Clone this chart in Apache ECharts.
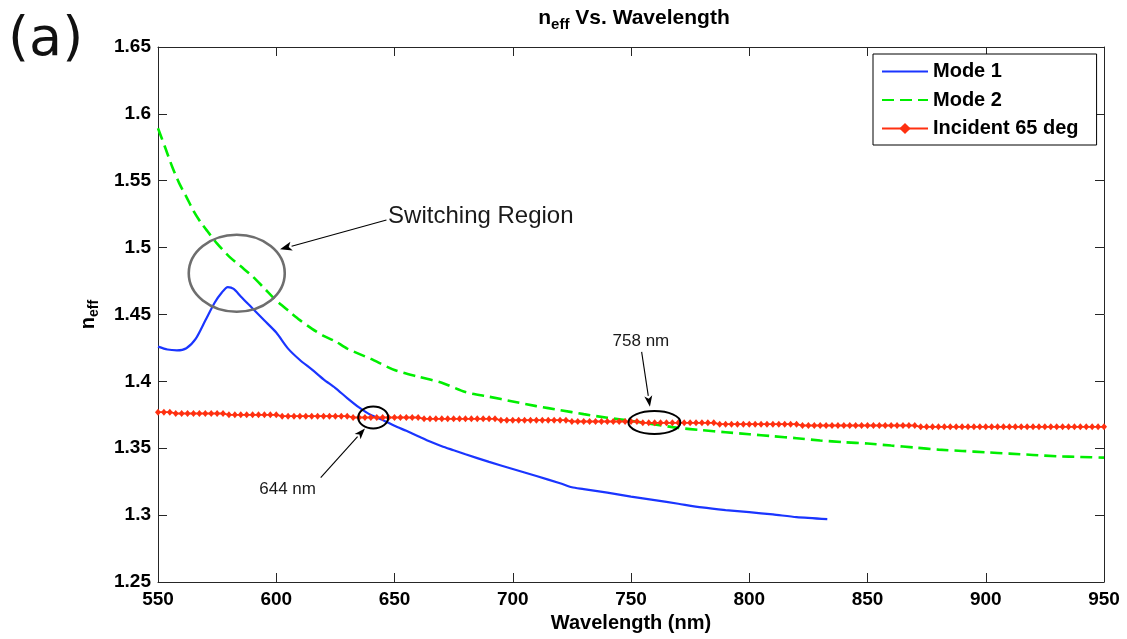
<!DOCTYPE html>
<html>
<head>
<meta charset="utf-8">
<script src="https://cdn.jsdelivr.net/npm/echarts@6/dist/echarts.min.js"></script>
<style>
  html, body { margin: 0; padding: 0; background: #fff; }
  #chart { width: 1127px; height: 639px; }
</style>
</head>
<body>
<div id="chart"></div>
<script>
// Mode 1 effective index vs. wavelength (nm)
const mode1Wavelength = [550, 554, 558, 562, 566, 570, 574, 577, 579.5, 582, 585, 590, 595, 600, 605, 610,
  615, 620, 625, 630, 635, 640, 645, 650, 655, 660, 665, 670, 675, 680, 690, 700, 710, 720, 725, 730,
  740, 750, 760, 770, 780, 790, 800, 810, 820, 833];
const mode1Neff = [1.426, 1.4238, 1.4232, 1.4248, 1.432, 1.4455, 1.459, 1.4665, 1.4705, 1.4692, 1.4635, 1.4545,
  1.4455, 1.4365, 1.4245, 1.416, 1.409, 1.4015, 1.395, 1.3875, 1.3805, 1.3748, 1.3712, 1.3668, 1.363, 1.359,
  1.355, 1.3515, 1.3485, 1.3455, 1.3398, 1.3345, 1.3292, 1.3238, 1.3208, 1.3195, 1.3168, 1.3138, 1.3112,
  1.3085, 1.3058, 1.3038, 1.3022, 1.3005, 1.2985, 1.297];

// Mode 2 effective index vs. wavelength (nm)
const mode2Wavelength = [550, 553, 556, 559, 562, 565, 568, 571, 575, 580, 585, 590, 595, 600, 605, 610, 615,
  620, 625, 630, 640, 650, 660, 670, 680, 690, 700, 710, 720, 730, 740, 750, 760, 770, 780, 790, 800, 810,
  820, 830, 840, 850, 860, 870, 880, 890, 900, 910, 920, 930, 940, 950];
const mode2Neff = [1.5892, 1.575, 1.5605, 1.548, 1.538, 1.5275, 1.519, 1.512, 1.503, 1.4935, 1.486, 1.4785,
  1.4695, 1.4605, 1.453, 1.4458, 1.4395, 1.434, 1.43, 1.4245, 1.4168, 1.4085, 1.4035, 1.399, 1.392, 1.3885,
  1.385, 1.3815, 1.3785, 1.3755, 1.3728, 1.3705, 1.3678, 1.3652, 1.3635, 1.362, 1.3605, 1.359, 1.3575,
  1.3558, 1.3545, 1.3535, 1.352, 1.3505, 1.349, 1.348, 1.347, 1.346, 1.345, 1.344, 1.3435, 1.343];

// Incident light at 65 deg, sampled every 2.5 nm
const incidentWavelength = [
  550, 552.5, 555, 557.5, 560, 562.5, 565, 567.5, 570, 572.5, 575, 577.5, 580, 582.5, 585, 587.5, 590, 592.5, 595, 597.5,
  600, 602.5, 605, 607.5, 610, 612.5, 615, 617.5, 620, 622.5, 625, 627.5, 630, 632.5, 635, 637.5, 640, 642.5, 645, 647.5,
  650, 652.5, 655, 657.5, 660, 662.5, 665, 667.5, 670, 672.5, 675, 677.5, 680, 682.5, 685, 687.5, 690, 692.5, 695, 697.5,
  700, 702.5, 705, 707.5, 710, 712.5, 715, 717.5, 720, 722.5, 725, 727.5, 730, 732.5, 735, 737.5, 740, 742.5, 745, 747.5,
  750, 752.5, 755, 757.5, 760, 762.5, 765, 767.5, 770, 772.5, 775, 777.5, 780, 782.5, 785, 787.5, 790, 792.5, 795, 797.5,
  800, 802.5, 805, 807.5, 810, 812.5, 815, 817.5, 820, 822.5, 825, 827.5, 830, 832.5, 835, 837.5, 840, 842.5, 845, 847.5,
  850, 852.5, 855, 857.5, 860, 862.5, 865, 867.5, 870, 872.5, 875, 877.5, 880, 882.5, 885, 887.5, 890, 892.5, 895, 897.5,
  900, 902.5, 905, 907.5, 910, 912.5, 915, 917.5, 920, 922.5, 925, 927.5, 930, 932.5, 935, 937.5, 940, 942.5, 945, 947.5,
  950];
const incidentNeff = [
  1.377, 1.377, 1.377, 1.376, 1.376, 1.376, 1.376, 1.376, 1.376, 1.376, 1.376, 1.376, 1.375, 1.375, 1.375, 1.375, 1.375, 1.375, 1.375, 1.375,
  1.375, 1.374, 1.374, 1.374, 1.374, 1.374, 1.374, 1.374, 1.374, 1.374, 1.374, 1.374, 1.374, 1.373, 1.373, 1.373, 1.373, 1.373, 1.373, 1.373,
  1.373, 1.373, 1.373, 1.373, 1.373, 1.372, 1.372, 1.372, 1.372, 1.372, 1.372, 1.372, 1.372, 1.372, 1.372, 1.372, 1.372, 1.372, 1.371, 1.371,
  1.371, 1.371, 1.371, 1.371, 1.371, 1.371, 1.371, 1.371, 1.371, 1.371, 1.370, 1.370, 1.370, 1.370, 1.370, 1.370, 1.370, 1.370, 1.370, 1.370,
  1.370, 1.370, 1.369, 1.369, 1.369, 1.369, 1.369, 1.369, 1.369, 1.369, 1.369, 1.369, 1.369, 1.369, 1.369, 1.368, 1.368, 1.368, 1.368, 1.368,
  1.368, 1.368, 1.368, 1.368, 1.368, 1.368, 1.368, 1.368, 1.368, 1.367, 1.367, 1.367, 1.367, 1.367, 1.367, 1.367, 1.367, 1.367, 1.367, 1.367,
  1.367, 1.367, 1.367, 1.367, 1.367, 1.367, 1.367, 1.367, 1.367, 1.366, 1.366, 1.366, 1.366, 1.366, 1.366, 1.366, 1.366, 1.366, 1.366, 1.366,
  1.366, 1.366, 1.366, 1.366, 1.366, 1.366, 1.366, 1.366, 1.366, 1.366, 1.366, 1.366, 1.366, 1.366, 1.366, 1.366, 1.366, 1.366, 1.366, 1.366,
  1.366];

const seriesNames = ['Mode 1', 'Mode 2', 'Incident 65 deg'];
const xTicks = { min: 550, max: 950, step: 50 };
const yTicks = { min: 1.25, max: 1.65, step: 0.05 };

const pairs = (xs, ys) => xs.map((x, i) => [x, ys[i]]);

const AXIS_COLOR = '#262626';
const TICK_FONT = { fontFamily: 'Liberation Sans', fontWeight: 'bold', fontSize: 19, color: '#000' };

const chart = echarts.init(document.getElementById('chart'), null, { renderer: 'canvas' });

const baseAxis = {
  axisLine: { show: true, onZero: false, lineStyle: { color: AXIS_COLOR, width: 1 } },
  axisTick: { show: true, inside: true, length: 9, lineStyle: { color: AXIS_COLOR, width: 1 } },
  splitLine: { show: false }
};

chart.setOption({
  animation: false,
  backgroundColor: '#fff',
  grid: { left: 158, right: 23, top: 47, bottom: 57, containLabel: false },
  title: {
    text: '{n|n}{sub|eff}{n| Vs. Wavelength}',
    left: 629, top: 2, textAlign: 'center',
    textStyle: {
      rich: {
        n: { fontFamily: 'Liberation Sans', fontWeight: 'bold', fontSize: 21, color: '#000', lineHeight: 23 },
        sub: { fontFamily: 'Liberation Sans', fontWeight: 'bold', fontSize: 15, color: '#000',
               lineHeight: 23, padding: [12, 0, 0, 0] }
      }
    }
  },
  legend: {
    orient: 'vertical',
    left: 873, top: 54,
    padding: [6, 18, 5, 8],
    itemWidth: 46, itemHeight: 14, itemGap: 5.5,
    borderColor: '#000', borderWidth: 1, borderRadius: 0,
    backgroundColor: '#fff',
    textStyle: { fontFamily: 'Liberation Sans', fontWeight: 'bold', fontSize: 20, color: '#000', lineHeight: 23 },
    data: [
      { name: seriesNames[0], itemStyle: { opacity: 0 } },
      { name: seriesNames[1], itemStyle: { opacity: 0 } },
      { name: seriesNames[2] }
    ]
  },
  xAxis: [
    Object.assign({}, baseAxis, {
      type: 'value', position: 'bottom',
      min: xTicks.min, max: xTicks.max, interval: xTicks.step,
      axisLabel: Object.assign({ margin: 8 }, TICK_FONT),
      name: 'Wavelength (nm)', nameLocation: 'middle', nameGap: 27,
      nameTextStyle: { fontFamily: 'Liberation Sans', fontWeight: 'bold', fontSize: 20, color: '#000' }
    }),
    Object.assign({}, baseAxis, {
      type: 'value', position: 'top',
      min: xTicks.min, max: xTicks.max, interval: xTicks.step,
      axisLabel: { show: false }
    })
  ],
  yAxis: [
    Object.assign({}, baseAxis, {
      type: 'value', position: 'left',
      min: yTicks.min, max: yTicks.max, interval: yTicks.step,
      axisLabel: Object.assign({ margin: 7, formatter: v => String(+v.toFixed(2)) }, TICK_FONT),
      name: '{n|n}{sub|eff}', nameLocation: 'middle', nameRotate: 90, nameGap: 59,
      nameTextStyle: {
        rich: {
          n: { fontFamily: 'Liberation Sans', fontWeight: 'bold', fontSize: 20, color: '#000', lineHeight: 22 },
          sub: { fontFamily: 'Liberation Sans', fontWeight: 'bold', fontSize: 14, color: '#000',
                 lineHeight: 22, padding: [12, 0, 0, 0] }
        }
      }
    }),
    Object.assign({}, baseAxis, {
      type: 'value', position: 'right',
      min: yTicks.min, max: yTicks.max, interval: yTicks.step,
      axisLabel: { show: false }
    })
  ],
  series: [
    {
      name: seriesNames[0], type: 'line', xAxisIndex: 0, yAxisIndex: 0,
      data: pairs(mode1Wavelength, mode1Neff),
      symbol: 'none', smooth: 0.25,
      lineStyle: { color: '#1a35ff', width: 2.2 },
      itemStyle: { color: '#1a35ff' }
    },
    {
      name: seriesNames[1], type: 'line', xAxisIndex: 0, yAxisIndex: 0,
      data: pairs(mode2Wavelength, mode2Neff),
      symbol: 'none', smooth: 0.25,
      lineStyle: { color: '#00ee00', width: 2.6, type: [12, 6] },
      itemStyle: { color: '#00ee00' }
    },
    {
      name: seriesNames[2], type: 'line', xAxisIndex: 0, yAxisIndex: 0,
      data: pairs(incidentWavelength, incidentNeff),
      symbol: 'diamond', symbolSize: [6, 7], showAllSymbol: true,
      lineStyle: { color: '#ff3010', width: 1.8 },
      itemStyle: { color: '#ff3010' },
      z: 3
    }
  ]
});

// Callouts, placed in data coordinates (wavelength nm, n_eff)
const toPx = p => chart.convertToPixel({ xAxisIndex: 0, yAxisIndex: 0 }, p);

function arrowGraphics(from, to, color, width, headLen, headHalf) {
  const a = toPx(from), b = toPx(to);
  const dx = b[0] - a[0], dy = b[1] - a[1];
  const len = Math.hypot(dx, dy);
  const ux = dx / len, uy = dy / len;
  const base = [b[0] - ux * headLen, b[1] - uy * headLen];
  const nx = -uy, ny = ux;
  return [
    { type: 'line', shape: { x1: a[0], y1: a[1], x2: base[0], y2: base[1] },
      style: { stroke: color, lineWidth: width }, z: 20 },
    { type: 'polygon',
      shape: { points: [b, [base[0] + nx * headHalf, base[1] + ny * headHalf],
                        [b[0] - ux * headLen * 0.75, b[1] - uy * headLen * 0.75],
                        [base[0] - nx * headHalf, base[1] - ny * headHalf]] },
      style: { fill: color }, z: 20 }
  ];
}

function ellipseGraphic(center, rx, ry, color, width) {
  const c = toPx(center);
  return { type: 'ellipse', shape: { cx: c[0], cy: c[1], rx: rx, ry: ry },
           style: { fill: 'none', stroke: color, lineWidth: width }, z: 15 };
}

function textGraphic(pos, text, size, align) {
  const p = toPx(pos);
  return { type: 'text', x: p[0], y: p[1], z: 20,
           style: { text: text, fontFamily: 'Liberation Sans', fontSize: size, fill: '#1a1a1a',
                    align: align || 'center', verticalAlign: 'middle' } };
}

const graphics = [];
graphics.push(ellipseGraphic([583.3, 1.4808], 48, 38.5, '#6e6e6e', 2.6));
graphics.push(...arrowGraphics([646.6, 1.5206], [601.6, 1.4987], '#000', 1.1, 12, 4.5));
graphics.push(textGraphic([647.3, 1.5235], 'Switching Region', 24, 'left'));

graphics.push(ellipseGraphic([641.0, 1.373], 15, 11, '#000', 2));
graphics.push(...arrowGraphics([618.8, 1.3281], [637.5, 1.3648], '#000', 1.1, 11, 4));
graphics.push(textGraphic([604.8, 1.3194], '644 nm', 17));

graphics.push(ellipseGraphic([759.9, 1.3692], 26, 11.5, '#000', 2));
graphics.push(...arrowGraphics([754.5, 1.4221], [758.0, 1.381], '#000', 1.1, 11, 4));
graphics.push(textGraphic([754.2, 1.4299], '758 nm', 17));

// panel tag
graphics.push({ type: 'text', left: 8, top: 14, z: 20,
  style: { text: '(a)', fontFamily: 'DejaVu Sans', fontSize: 54, fill: '#111' } });

chart.setOption({ graphic: graphics });
</script>
</body>
</html>
